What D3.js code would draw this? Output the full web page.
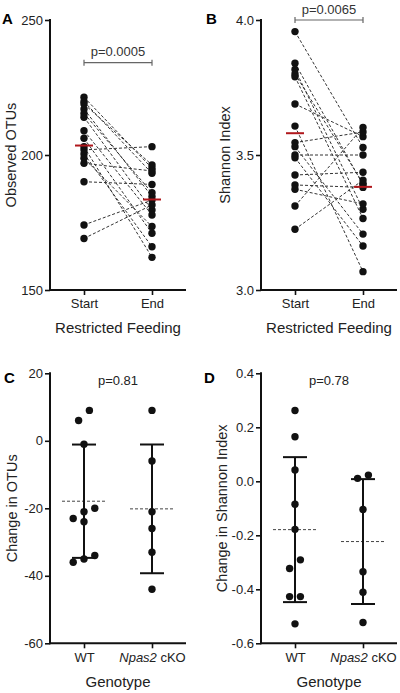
<!DOCTYPE html>
<html>
<head>
<meta charset="utf-8">
<script src="https://cdn.jsdelivr.net/npm/d3@7"></script>
<style>
  html, body { margin: 0; padding: 0; background: #fff; }
  svg { display: block; font-family: "Liberation Sans", Arial, Helvetica, sans-serif; }
</style>
</head>
<body>
<svg id="chart" width="400" height="693"></svg>
<script>
// ---------------- DATA ----------------
const conditions = ["Start", "End"];
const otuStart = [221.4, 219.8, 218.9, 217.0, 215.4, 214.0, 209.0, 206.2, 203.1, 201.9, 200.4, 198.8, 196.9, 190.1, 174.1, 169.1];
const otuEnd   = [195.1, 193.2, 196.3, 184.6, 186.0, 179.6, 177.8, 171.0, 162.1, 203.1, 166.0, 173.5, 194.1, 189.1, 183.3, 181.5];
const shannonStart = [3.957, 3.84, 3.817, 3.80, 3.79, 3.689, 3.607, 3.546, 3.531, 3.50, 3.49, 3.426, 3.389, 3.373, 3.311, 3.225];
const shannonEnd   = [3.528, 3.39, 3.299, 3.395, 3.265, 3.568, 3.068, 3.585, 3.207, 3.50, 3.163, 3.436, 3.38, 3.319, 3.602, 3.407];

const genotypes = ["WT", "Npas2 cKO"];
const otuChangeWT = [9, 6, -1, -20, -21, -23, -24, -34, -35, -36];
const otuChangeKO = [9, -6, -21, -26, -33, -44];
const shannonChangeWT = [0.262, 0.165, 0.042, -0.085, -0.178, -0.291, -0.323, -0.427, -0.427, -0.528];
const shannonChangeKO = [0.023, 0.011, -0.104, -0.335, -0.411, -0.523];

const otuTicks = [150, 200, 250];
const shannonTicks = [3.0, 3.5, 4.0];
const otuChangeTicks = [-60, -40, -20, 0, 20];
const shannonChangeTicks = [-0.6, -0.4, -0.2, 0.0, 0.2, 0.4];

const pValues = ["p=0.0005", "p=0.0065", "p=0.81", "p=0.78"];
const panelLetters = ["A", "B", "C", "D"];
const axisTitles = ["Observed OTUs", "Shannon Index", "Change in OTUs", "Change in Shannon Index"];
const xTitles = ["Restricted Feeding", "Restricted Feeding", "Genotype", "Genotype"];

// ---------------- DRAW ----------------
const svg = d3.select("#chart");
const TICK_FONT = 13, TITLE_FONT = 14.5, XTITLE_FONT = 15;
const RED = "#b0171c";

function styleAxis(g) {
  g.select(".domain").attr("stroke", "#111").attr("stroke-width", 2);
  g.selectAll(".tick line").attr("stroke", "#111").attr("stroke-width", 1.6);
  g.selectAll(".tick text").attr("fill", "#222").style("font-size", TICK_FONT + "px")
    .style("font-family", '"Liberation Sans", Arial, sans-serif');
}

function frame(p) {
  const y = d3.scaleLinear().domain(p.domain).range([p.yBot, p.yTop]);
  const x = d3.scalePoint().domain(p.cats).range([p.x0, p.x1]).padding(0.5);

  const ya = svg.append("g").attr("transform", `translate(${p.x0},0)`)
    .call(d3.axisLeft(y).tickValues(p.ticks).tickFormat(p.fmt).tickSize(5).tickSizeOuter(0).tickPadding(2));
  styleAxis(ya);
  ya.select(".domain").attr("d", `M0,${p.yTop - 1}V${p.yBot + 1}`);

  const xa = svg.append("g").attr("transform", `translate(0,${p.yBot})`)
    .call(d3.axisBottom(x).tickSize(5).tickSizeOuter(0).tickPadding(4).tickFormat(() => ""));
  styleAxis(xa);
  xa.select(".domain").attr("d", `M${p.x0},0H${p.x1}`);

  xa.selectAll(".tick").each(function(d) {
    const t = d3.select(this).select("text").text(null);
    const m = d.match(/^(\S+)\s+(cKO)$/);
    if (m) {
      t.append("tspan").style("font-style", "italic").text(m[1]);
      t.append("tspan").text(" " + m[2]);
    } else {
      t.text(d);
    }
  });

  svg.append("text")
    .attr("transform", `translate(${p.titleX},${(p.yTop + p.yBot) / 2}) rotate(-90)`)
    .attr("text-anchor", "middle").attr("fill", "#222")
    .style("font-size", TITLE_FONT + "px").text(p.title);
  svg.append("text")
    .attr("x", (p.x0 + p.x1) / 2).attr("y", p.xtitleY)
    .attr("text-anchor", "middle").attr("fill", "#222")
    .style("font-size", XTITLE_FONT + "px").text(p.xtitle);
  svg.append("text")
    .attr("x", p.letterX).attr("y", p.letterY)
    .attr("fill", "#000").style("font-size", "15px").style("font-weight", "bold")
    .text(p.letter);
  return {x, y};
}

function pairedPanel(p, startVals, endVals, pText, bracketY, pTextY) {
  const {x, y} = frame(p);
  const g = svg.append("g");
  const pairs = startVals.map((s, i) => ({s, e: endVals[i]}));
  g.selectAll("line.pair").data(pairs).join("line")
    .attr("x1", x("Start")).attr("x2", x("End"))
    .attr("y1", d => y(d.s)).attr("y2", d => y(d.e))
    .attr("stroke", "#333").attr("stroke-width", 1).attr("stroke-dasharray", "3,2");
  const pts = [];
  startVals.forEach(v => pts.push({c: "Start", v}));
  endVals.forEach(v => pts.push({c: "End", v}));
  g.selectAll("circle").data(pts).join("circle")
    .attr("cx", d => x(d.c)).attr("cy", d => y(d.v)).attr("r", 3.7).attr("fill", "#111");
  const means = [{c: "Start", m: d3.mean(startVals)}, {c: "End", m: d3.mean(endVals)}];
  g.selectAll("line.mean").data(means).join("line")
    .attr("x1", d => x(d.c) - 9).attr("x2", d => x(d.c) + 9)
    .attr("y1", d => y(d.m)).attr("y2", d => y(d.m))
    .attr("stroke", RED).attr("stroke-width", 2);
  const xa = x("Start"), xb = x("End");
  g.append("path")
    .attr("d", `M${xa},${bracketY - 3}V${bracketY + 3}M${xa},${bracketY}H${xb}M${xb},${bracketY - 3}V${bracketY + 3}`)
    .attr("stroke", "#666").attr("stroke-width", 1.2).attr("fill", "none");
  g.append("text").attr("x", (xa + xb) / 2).attr("y", pTextY).attr("text-anchor", "middle")
    .attr("fill", "#333").style("font-size", "13px").text(pText);
}

function swarm(values, y, cx, binH, spacing) {
  const sorted = values.map((v, i) => ({v, i})).sort((a, b) => b.v - a.v);
  const bins = [];
  sorted.forEach(d => {
    const last = bins[bins.length - 1];
    if (last && Math.abs(y(last[0].v) - y(d.v)) < binH) last.push(d);
    else bins.push([d]);
  });
  const out = [];
  bins.forEach(b => {
    b.sort((p, q) => p.v - q.v);
    const n = b.length;
    b.forEach((d, k) => out.push({v: d.v, x: cx + (k - (n - 1) / 2) * spacing, y: y(d.v)}));
  });
  return out;
}

function changePanel(p, groups, pText, pTextY) {
  const {x, y} = frame(p);
  const g = svg.append("g");
  groups.forEach(gr => {
    const cx = x(gr.name);
    const m = d3.mean(gr.values), sd = d3.deviation(gr.values);
    g.append("line").attr("x1", cx - 22).attr("x2", cx + 22)
      .attr("y1", y(m)).attr("y2", y(m))
      .attr("stroke", "#444").attr("stroke-width", 1).attr("stroke-dasharray", "3,2");
    g.append("line").attr("x1", cx).attr("x2", cx).attr("y1", y(m + sd)).attr("y2", y(m - sd))
      .attr("stroke", "#111").attr("stroke-width", 2);
    [m + sd, m - sd].forEach(v => {
      g.append("line").attr("x1", cx - 12).attr("x2", cx + 12).attr("y1", y(v)).attr("y2", y(v))
        .attr("stroke", "#111").attr("stroke-width", 2);
    });
    const pts = swarm(gr.values, y, cx, 11, 10.8);
    g.selectAll(null).data(pts).join("circle")
      .attr("cx", d => d.x).attr("cy", d => d.y).attr("r", 3.7).attr("fill", "#111");
  });
  g.append("text").attr("x", (x(groups[0].name) + x(groups[1].name)) / 2).attr("y", pTextY)
    .attr("text-anchor", "middle").attr("fill", "#222").style("font-size", "13px").text(pText);
}

const fmtInt = d => String(d);
const fmt1 = d => d.toFixed(1);

pairedPanel({x0: 50, x1: 186, yTop: 20, yBot: 290, domain: [150, 250], ticks: otuTicks, fmt: fmtInt,
  cats: conditions, letter: panelLetters[0], title: axisTitles[0], xtitle: xTitles[0],
  titleX: 16, letterX: 2, letterY: 24, xtitleY: 333}, otuStart, otuEnd, pValues[0], 62.7, 56);

pairedPanel({x0: 261, x1: 397, yTop: 20, yBot: 290, domain: [3.0, 4.0], ticks: shannonTicks, fmt: fmt1,
  cats: conditions, letter: panelLetters[1], title: axisTitles[1], xtitle: xTitles[1],
  titleX: 230, letterX: 206, letterY: 24, xtitleY: 333}, shannonStart, shannonEnd, pValues[1], 20, 14);

changePanel({x0: 50, x1: 186, yTop: 373.3, yBot: 643.3, domain: [-60, 20], ticks: otuChangeTicks, fmt: fmtInt,
  cats: genotypes, letter: panelLetters[2], title: axisTitles[2], xtitle: xTitles[2],
  titleX: 17, letterX: 4, letterY: 383, xtitleY: 687},
  [{name: genotypes[0], values: otuChangeWT}, {name: genotypes[1], values: otuChangeKO}], pValues[2], 385);

changePanel({x0: 261, x1: 397, yTop: 373.3, yBot: 643.3, domain: [-0.6, 0.4], ticks: shannonChangeTicks, fmt: fmt1,
  cats: genotypes, letter: panelLetters[3], title: axisTitles[3], xtitle: xTitles[3],
  titleX: 227, letterX: 204, letterY: 383, xtitleY: 687},
  [{name: genotypes[0], values: shannonChangeWT}, {name: genotypes[1], values: shannonChangeKO}], pValues[3], 385);
</script>
</body>
</html>
